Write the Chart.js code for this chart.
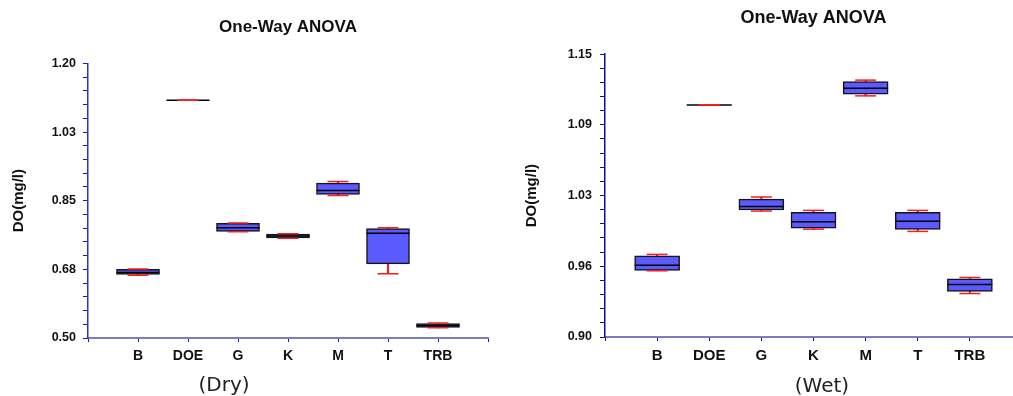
<!DOCTYPE html>
<html>
<head>
<meta charset="utf-8">
<script src="https://cdn.jsdelivr.net/npm/chart.js@4.4.0/dist/chart.umd.min.js"></script>
<style>
  body { margin: 0; width: 1013px; height: 396px; overflow: hidden; background: #fff; position: relative; }
  canvas { position: absolute; top: 0; }
  #dryChart { left: 0; }
  #wetChart { left: 500px; }
  .caption { position: absolute; font-family: "DejaVu Sans"; font-size: 20px; color: #222; transform: translate(-50%, -50%); white-space: nowrap; }
</style>
</head>
<body>
<canvas id="dryChart" width="511" height="396"></canvas>
<canvas id="wetChart" width="546" height="396"></canvas>
<div class="caption" style="left:224px; top:384px">(Dry)</div>
<div class="caption" style="left:822px; top:385px">(Wet)</div>
<script>
const categories = ['B', 'DOE', 'G', 'K', 'M', 'T', 'TRB'];

// dry season DO(mg/l)
const dryMin    = [0.660, 1.106, 0.771, 0.754, 0.863, 0.664, 0.526];
const dryQ1     = [0.662, 1.106, 0.772, 0.755, 0.866, 0.689, 0.527];
const dryMedian = [0.667, 1.106, 0.781, 0.760, 0.876, 0.767, 0.532];
const dryQ3     = [0.675, 1.106, 0.792, 0.765, 0.895, 0.779, 0.537];
const dryMax    = [0.676, 1.106, 0.793, 0.766, 0.899, 0.781, 0.538];
const dryTickLabels = ['0.50', '0.68', '0.85', '1.03', '1.20'];

// wet season DO(mg/l)
const wetMin    = [0.9585, 1.105, 1.0113, 0.9953, 1.1131, 0.9933, 0.9384];
const wetQ1     = [0.9588, 1.105, 1.0122, 0.9962, 1.1146, 0.9951, 0.9402];
const wetMedian = [0.9635, 1.105, 1.0154, 1.0018, 1.1199, 1.0022, 0.9464];
const wetQ3     = [0.9717, 1.105, 1.0219, 1.0101, 1.1257, 1.0101, 0.9513];
const wetMax    = [0.9730, 1.105, 1.0237, 1.0119, 1.1270, 1.0119, 0.9526];
const wetTickLabels = ['0.90', '0.96', '1.03', '1.09', '1.15'];

const FONT = 'Liberation Sans, Arial, sans-serif';
const BOX_FILL = '#5a5aff';
const WHISKER = '#f42020';

function boxDatasets(min, q1, median, q3, max, boxWidth) {
    const pos = (i) => i + 1;
    return [
        {
            type: 'line', showLine: false, order: 1,
            data: max.map((v, i) => ({x: pos(i), y: v})).concat(min.map((v, i) => ({x: pos(i), y: v}))),
            pointStyle: 'line', pointRadius: 10.5, pointBorderColor: WHISKER, pointBorderWidth: 1.5,
        },
        {
            type: 'line', showLine: false, order: 2,
            data: median.map((v, i) => ({x: pos(i), y: v})),
            pointStyle: 'line', pointRadius: boxWidth / 2, pointBorderColor: '#000', pointBorderWidth: 1.5,
        },
        {
            type: 'bar', order: 3, grouped: false,
            data: q1.map((v, i) => ({x: pos(i), y: [v, q3[i]]})),
            backgroundColor: BOX_FILL, borderColor: '#151515', borderWidth: 1.5, borderSkipped: false,
            barThickness: boxWidth,
        },
        {
            type: 'bar', order: 4, grouped: false,
            data: q3.map((v, i) => ({x: pos(i), y: [v, max[i]]})).concat(min.map((v, i) => ({x: pos(i), y: [v, q1[i]]}))),
            backgroundColor: WHISKER, borderWidth: 0, barThickness: 1.5,
        },
    ];
}

function makeConfig(opts) {
    return {
        type: 'bar',
        data: {datasets: boxDatasets(opts.min, opts.q1, opts.median, opts.q3, opts.max, opts.boxWidth)},
        options: {
            responsive: false,
            animation: false,
            layout: {padding: {left: 0, right: opts.padRight, top: 0, bottom: 0}},
            plugins: {
                legend: {display: false},
                tooltip: {enabled: false},
                title: {
                    display: true, text: 'One-Way ANOVA', fullSize: false, color: '#111',
                    font: {family: FONT, size: opts.titleSize, weight: 'bold'},
                    padding: opts.titlePadding,
                },
            },
            scales: {
                x: {
                    type: 'linear', min: 0, max: 8, offset: false,
                    ticks: {
                        stepSize: 1, autoSkip: false, maxRotation: 0, padding: 6, color: '#111',
                        font: {family: FONT, size: opts.xFontSize, weight: 'bold'},
                        callback: (v) => categories[Math.round(v) - 1] || '',
                    },
                    grid: {drawOnChartArea: false, offset: false, tickLength: 4, color: opts.tickColor},
                    border: {color: '#7b7bc8', width: 2},
                    afterFit: (s) => { s.height = opts.xHeight; },
                },
                y: {
                    min: opts.yMin, max: opts.yMax,
                    ticks: {
                        stepSize: opts.yStep, autoSkip: false, padding: opts.yTickPad, color: '#111',
                        font: {family: FONT, size: 12.5, weight: 'bold'},
                        callback: (v, i) => (i % 5 === 0 ? opts.tickLabels[i / 5] : ''),
                    },
                    grid: {drawOnChartArea: false, tickLength: 5, color: opts.tickColor},
                    border: {color: opts.yAxisColor, width: 1.5},
                    title: {
                        display: true, text: 'DO(mg/l)', color: '#111',
                        font: {family: FONT, size: 15, weight: 'bold'},
                        padding: {top: opts.yTitlePad, bottom: 0},
                    },
                    afterFit: (s) => { s.width = opts.yWidth; },
                },
            },
        },
    };
}

new Chart(document.getElementById('dryChart'), makeConfig({
    min: dryMin, q1: dryQ1, median: dryMedian, q3: dryQ3, max: dryMax, boxWidth: 43,
    yMin: 0.5, yMax: 1.2, yStep: 0.035, tickLabels: dryTickLabels,
    padRight: 1, xHeight: 58, yWidth: 88, yTickPad: 7, yTitlePad: 10,
    titleSize: 17, titlePadding: {top: 17, bottom: 26}, xFontSize: 14,
    tickColor: '#1c1ca8', yAxisColor: '#3535b0',
}));

new Chart(document.getElementById('wetChart'), makeConfig({
    min: wetMin, q1: wetQ1, median: wetMedian, q3: wetQ3, max: wetMax, boxWidth: 45,
    yMin: 0.9, yMax: 1.15, yStep: 0.0125, tickLabels: wetTickLabels,
    padRight: 8, xHeight: 59, yWidth: 105, yTickPad: 8, yTitlePad: 23,
    titleSize: 18, titlePadding: {top: 7.5, bottom: 25}, xFontSize: 15,
    tickColor: '#101090', yAxisColor: '#10108a',
}));
</script>
</body>
</html>
